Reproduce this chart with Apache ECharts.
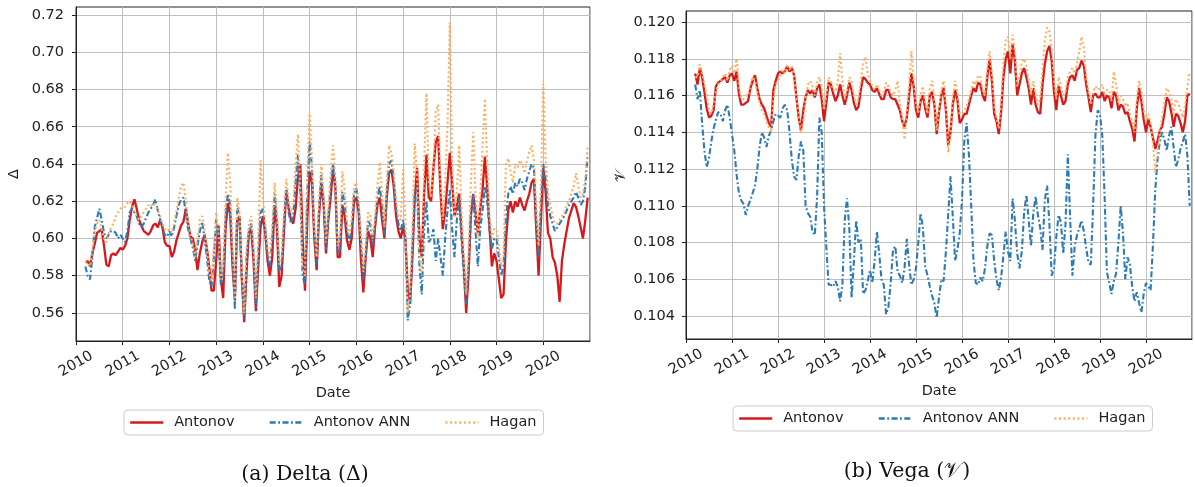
<!DOCTYPE html>
<html>
<head>
<meta charset="utf-8">
<script src="https://cdn.jsdelivr.net/npm/echarts@6/dist/echarts.min.js"></script>
<style>html,body{margin:0;padding:0;background:#fff;}#c{width:1195px;height:487px;}</style>
</head>
<body>
<div id="c"></div>
<script>
// sampling grid (decimal years)
const sampleStart = 2010.20;
const sampleStep = 0.05;
const sampleCount = 216;

const seriesNames = ['Antonov', 'Antonov ANN', 'Hagan'];
const yearTicks = [2010, 2011, 2012, 2013, 2014, 2015, 2016, 2017, 2018, 2019, 2020];
const deltaTicks = [0.56, 0.58, 0.60, 0.62, 0.64, 0.66, 0.68, 0.70, 0.72];
const vegaTicks = [0.104, 0.106, 0.108, 0.110, 0.112, 0.114, 0.116, 0.118, 0.120];

// ---- Delta panel ----
const deltaAntonov = [
0.587,0.588,0.585,0.592,0.597,0.603,0.604,0.605,0.596,0.586,0.585,0.591,0.592,0.591,0.593,0.595,
0.594,0.596,0.600,0.610,0.617,0.621,0.616,0.610,0.607,0.604,0.603,0.602,0.604,0.607,0.608,0.606,0.610,0.606,0.598,0.596,
0.596,0.590,0.593,0.599,0.603,0.607,0.609,0.616,0.608,0.601,0.600,0.594,0.583,0.592,0.598,0.602,0.595,0.585,0.572,0.572,
0.588,0.607,0.578,0.568,0.605,0.619,0.613,0.585,0.567,0.610,0.612,0.578,0.555,0.582,0.603,0.605,0.588,0.561,0.585,0.606,
0.612,0.603,0.588,0.580,0.590,0.618,0.606,0.574,0.580,0.603,0.626,0.617,0.610,0.608,0.616,0.633,0.640,0.600,0.572,0.610,
0.636,0.630,0.600,0.583,0.612,0.630,0.618,0.592,0.610,0.622,0.637,0.628,0.590,0.590,0.618,0.612,0.599,0.594,0.600,0.620,
0.622,0.614,0.588,0.571,0.590,0.604,0.600,0.590,0.606,0.618,0.622,0.610,0.600,0.622,0.635,0.637,0.628,0.612,0.604,0.600,
0.606,0.600,0.572,0.565,0.590,0.622,0.638,0.600,0.590,0.624,0.645,0.622,0.620,0.638,0.652,0.655,0.625,0.605,0.615,0.630,
0.646,0.630,0.612,0.618,0.624,0.604,0.585,0.560,0.580,0.612,0.624,0.614,0.603,0.616,0.626,0.644,0.628,0.606,0.585,0.592,
0.588,0.578,0.568,0.570,0.598,0.615,0.620,0.614,0.620,0.617,0.622,0.618,0.615,0.620,0.624,0.630,0.632,0.605,0.580,0.610,
0.638,0.625,0.603,0.600,0.590,0.587,0.580,0.566,0.588,0.597,0.604,0.611,0.615,0.619,0.617,0.612,0.606,0.600,0.610,0.622
];
const deltaAntonovANN = [
0.585,0.580,0.578,0.590,0.606,0.611,0.616,0.610,0.603,0.600,0.602,0.604,0.604,0.603,0.600,0.602,
0.600,0.598,0.604,0.614,0.616,0.614,0.612,0.608,0.606,0.608,0.611,0.614,0.616,0.618,0.621,0.615,0.610,0.606,0.602,0.601,
0.604,0.601,0.606,0.612,0.618,0.621,0.622,0.614,0.605,0.600,0.595,0.588,0.596,0.604,0.609,0.600,0.590,0.578,0.574,0.590,
0.610,0.600,0.575,0.580,0.612,0.624,0.618,0.590,0.562,0.618,0.610,0.578,0.557,0.590,0.604,0.608,0.592,0.563,0.592,0.614,
0.616,0.605,0.590,0.585,0.600,0.624,0.610,0.582,0.585,0.608,0.626,0.614,0.608,0.612,0.630,0.645,0.625,0.580,0.575,0.625,
0.652,0.638,0.604,0.586,0.615,0.634,0.620,0.594,0.612,0.628,0.640,0.630,0.592,0.594,0.625,0.620,0.604,0.598,0.605,0.624,
0.627,0.617,0.598,0.578,0.590,0.610,0.607,0.596,0.608,0.622,0.628,0.618,0.602,0.625,0.640,0.642,0.632,0.616,0.608,0.604,
0.610,0.600,0.556,0.565,0.595,0.625,0.628,0.585,0.570,0.605,0.620,0.598,0.600,0.605,0.588,0.600,0.590,0.580,0.600,0.615,
0.626,0.605,0.590,0.610,0.622,0.600,0.580,0.565,0.585,0.612,0.624,0.604,0.585,0.605,0.615,0.628,0.620,0.604,0.594,0.600,
0.600,0.590,0.580,0.585,0.610,0.624,0.628,0.624,0.630,0.628,0.632,0.630,0.626,0.632,0.636,0.640,0.638,0.610,0.590,0.620,
0.640,0.632,0.618,0.612,0.608,0.604,0.606,0.608,0.610,0.612,0.615,0.618,0.620,0.622,0.625,0.622,0.618,0.620,0.628,0.645
];
const deltaHagan = [
0.588,0.586,0.585,0.594,0.604,0.608,0.610,0.605,0.600,0.598,0.603,0.606,0.608,0.612,0.614,0.616,
0.617,0.617,0.619,0.620,0.618,0.614,0.612,0.610,0.612,0.614,0.616,0.618,0.617,0.619,0.618,0.615,0.612,0.608,0.605,0.604,
0.605,0.603,0.608,0.615,0.622,0.628,0.630,0.620,0.608,0.602,0.597,0.590,0.600,0.610,0.612,0.605,0.595,0.582,0.577,0.595,
0.614,0.603,0.578,0.585,0.620,0.646,0.630,0.595,0.566,0.622,0.614,0.582,0.560,0.594,0.608,0.612,0.596,0.568,0.600,0.642,
0.622,0.608,0.594,0.590,0.606,0.630,0.614,0.586,0.590,0.614,0.632,0.620,0.614,0.618,0.640,0.656,0.628,0.584,0.580,0.636,
0.667,0.642,0.606,0.590,0.620,0.640,0.624,0.598,0.616,0.635,0.650,0.632,0.596,0.600,0.636,0.626,0.608,0.602,0.610,0.628,
0.630,0.620,0.600,0.582,0.596,0.614,0.612,0.600,0.612,0.628,0.641,0.624,0.606,0.630,0.650,0.646,0.636,0.620,0.612,0.610,
0.637,0.610,0.560,0.570,0.605,0.651,0.634,0.590,0.580,0.640,0.678,0.630,0.622,0.640,0.668,0.672,0.630,0.610,0.630,0.660,
0.716,0.640,0.612,0.625,0.650,0.615,0.590,0.570,0.592,0.630,0.657,0.624,0.600,0.622,0.650,0.675,0.640,0.612,0.600,0.605,
0.605,0.596,0.585,0.590,0.640,0.643,0.636,0.630,0.640,0.638,0.642,0.640,0.635,0.642,0.646,0.650,0.642,0.616,0.596,0.630,
0.683,0.643,0.625,0.618,0.612,0.608,0.608,0.610,0.612,0.614,0.618,0.620,0.624,0.628,0.635,0.628,0.622,0.624,0.632,0.650
];

// ---- Vega panel ----
const vegaAntonov = [
0.1172,0.1166,0.1175,0.1170,0.1162,0.1153,0.1148,0.1149,0.1152,0.1165,0.1167,0.1168,0.1169,0.1170,0.1167,0.1171,
0.1172,0.1168,0.1173,0.1161,0.1155,0.1155,0.1156,0.1157,0.1164,0.1168,0.1171,0.1164,0.1158,0.1155,0.1153,0.1149,0.1145,0.1143,0.1163,0.1168,
0.1172,0.1173,0.1172,0.1173,0.1176,0.1173,0.1175,0.1171,0.1159,0.1148,0.1141,0.1152,0.1159,0.1163,0.1161,0.1163,0.1159,0.1164,0.1166,0.1158,
0.1146,0.1156,0.1167,0.1166,0.1161,0.1157,0.1160,0.1166,0.1160,0.1155,0.1160,0.1167,0.1163,0.1156,0.1152,0.1154,0.1163,0.1170,0.1169,0.1167,
0.1166,0.1163,0.1162,0.1164,0.1161,0.1158,0.1158,0.1163,0.1163,0.1159,0.1158,0.1158,0.1155,0.1152,0.1146,0.1143,0.1148,0.1160,0.1172,0.1165,
0.1152,0.1148,0.1157,0.1160,0.1153,0.1148,0.1160,0.1162,0.1155,0.1139,0.1151,0.1160,0.1164,0.1152,0.1133,0.1140,0.1155,0.1163,0.1158,0.1145,
0.1147,0.1150,0.1150,0.1155,0.1160,0.1164,0.1162,0.1167,0.1166,0.1160,0.1157,0.1170,0.1180,0.1168,0.1150,0.1146,0.1139,0.1151,0.1170,0.1180,
0.1184,0.1172,0.1188,0.1179,0.1160,0.1166,0.1172,0.1175,0.1170,0.1164,0.1155,0.1164,0.1155,0.1151,0.1150,0.1166,0.1177,0.1184,0.1187,0.1179,
0.1162,0.1152,0.1165,0.1160,0.1155,0.1157,0.1166,0.1170,0.1171,0.1168,0.1174,0.1175,0.1179,0.1176,0.1166,0.1159,0.1151,0.1160,0.1161,0.1159,
0.1159,0.1162,0.1157,0.1160,0.1159,0.1153,0.1162,0.1160,0.1152,0.1155,0.1154,0.1150,0.1151,0.1146,0.1142,0.1135,0.1153,0.1164,0.1157,0.1147,
0.1140,0.1147,0.1143,0.1137,0.1131,0.1135,0.1141,0.1143,0.1150,0.1159,0.1157,0.1151,0.1143,0.1150,0.1149,0.1145,0.1140,0.1146,0.1160,0.1161
];
const vegaAntonovANN = [
0.1166,0.1158,0.1163,0.1145,0.1130,0.1121,0.1126,0.1135,0.1142,0.1147,0.1151,0.1150,0.1146,0.1152,0.1155,0.1148,
0.1139,0.1130,0.1117,0.1107,0.1103,0.1101,0.1095,0.1100,0.1103,0.1107,0.1111,0.1120,0.1132,0.1140,0.1137,0.1132,0.1138,0.1141,0.1146,0.1150,
0.1149,0.1148,0.1153,0.1155,0.1152,0.1140,0.1125,0.1116,0.1114,0.1127,0.1135,0.1130,0.1100,0.1096,0.1094,0.1086,0.1084,0.1105,0.1148,0.1140,
0.1100,0.1078,0.1057,0.1057,0.1056,0.1059,0.1056,0.1048,0.1057,0.1092,0.1104,0.1088,0.1050,0.1070,0.1092,0.1080,0.1082,0.1052,0.1054,0.1059,
0.1065,0.1058,0.1070,0.1086,0.1074,0.1060,0.1057,0.1041,0.1045,0.1058,0.1076,0.1078,0.1064,0.1062,0.1058,0.1066,0.1082,0.1068,0.1057,0.1060,
0.1066,0.1080,0.1096,0.1088,0.1067,0.1062,0.1056,0.1051,0.1047,0.1039,0.1050,0.1060,0.1059,0.1075,0.1095,0.1116,0.1094,0.1070,0.1076,0.1085,
0.1103,0.1135,0.1145,0.1128,0.1100,0.1070,0.1058,0.1057,0.1061,0.1059,0.1066,0.1078,0.1085,0.1084,0.1070,0.1060,0.1054,0.1061,0.1073,0.1086,
0.1075,0.1070,0.1104,0.1092,0.1074,0.1066,0.1075,0.1096,0.1106,0.1092,0.1078,0.1096,0.1105,0.1095,0.1088,0.1076,0.1103,0.1111,0.1090,0.1062,
0.1066,0.1083,0.1095,0.1091,0.1074,0.1090,0.1128,0.1094,0.1062,0.1078,0.1084,0.1088,0.1092,0.1086,0.1077,0.1069,0.1068,0.1100,0.1138,0.1152,
0.1150,0.1138,0.1105,0.1064,0.1058,0.1052,0.1059,0.1063,0.1080,0.1100,0.1085,0.1060,0.1072,0.1068,0.1056,0.1048,0.1053,0.1047,0.1042,0.1052,
0.1058,0.1056,0.1054,0.1078,0.1108,0.1125,0.1135,0.1140,0.1136,0.1130,0.1138,0.1143,0.1132,0.1121,0.1125,0.1131,0.1135,0.1139,0.1127,0.1100
];
const vegaHagan = [
0.1170,0.1170,0.1177,0.1172,0.1166,0.1160,0.1152,0.1150,0.1155,0.1162,0.1166,0.1168,0.1170,0.1172,0.1168,0.1174,
0.1176,0.1172,0.1180,0.1165,0.1158,0.1158,0.1160,0.1160,0.1166,0.1170,0.1168,0.1162,0.1156,0.1152,0.1150,0.1146,0.1143,0.1140,0.1158,0.1166,
0.1168,0.1171,0.1174,0.1172,0.1176,0.1174,0.1176,0.1170,0.1158,0.1150,0.1140,0.1146,0.1158,0.1166,0.1168,0.1165,0.1160,0.1167,0.1170,0.1165,
0.1152,0.1160,0.1170,0.1168,0.1163,0.1162,0.1168,0.1183,0.1168,0.1158,0.1162,0.1170,0.1168,0.1160,0.1155,0.1158,0.1168,0.1178,0.1181,0.1172,
0.1168,0.1165,0.1163,0.1166,0.1163,0.1160,0.1162,0.1167,0.1165,0.1162,0.1160,0.1163,0.1168,0.1155,0.1148,0.1136,0.1150,0.1165,0.1184,0.1168,
0.1156,0.1150,0.1160,0.1165,0.1156,0.1150,0.1164,0.1168,0.1158,0.1141,0.1152,0.1163,0.1168,0.1155,0.1129,0.1138,0.1158,0.1168,0.1162,0.1150,
0.1150,0.1152,0.1154,0.1158,0.1163,0.1168,0.1166,0.1171,0.1170,0.1163,0.1160,0.1174,0.1184,0.1172,0.1154,0.1148,0.1142,0.1155,0.1178,0.1190,
0.1192,0.1180,0.1193,0.1184,0.1165,0.1170,0.1178,0.1180,0.1176,0.1168,0.1160,0.1168,0.1160,0.1155,0.1158,0.1175,0.1190,0.1197,0.1195,0.1185,
0.1168,0.1158,0.1170,0.1165,0.1160,0.1162,0.1170,0.1173,0.1175,0.1172,0.1178,0.1184,0.1192,0.1186,0.1170,0.1162,0.1155,0.1162,0.1165,0.1163,
0.1164,0.1166,0.1160,0.1163,0.1163,0.1157,0.1173,0.1166,0.1156,0.1160,0.1158,0.1154,0.1156,0.1150,0.1146,0.1140,0.1158,0.1168,0.1162,0.1152,
0.1146,0.1150,0.1145,0.1135,0.1118,0.1128,0.1140,0.1148,0.1156,0.1164,0.1162,0.1158,0.1150,0.1158,0.1156,0.1152,0.1148,0.1155,0.1165,0.1173
];

const dates = [];
for (let i = 0; i < sampleCount; i++) dates.push(+(sampleStart + i * sampleStep).toFixed(2));
const pair = arr => arr.map((v, i) => [dates[i], v]);

const COLORS = { red: '#d7191c', blue: '#2c7bb6', orange: '#fdae61' };
const FONT = 'DejaVu Sans';
const INK = '#222';
const GRIDC = '#bfbfbf';

function lineSeries(name, data, xi, color, type, width, z) {
  return {
    name, type: 'line', xAxisIndex: xi, yAxisIndex: xi, data: pair(data),
    showSymbol: false, symbol: 'none', z,
    lineStyle: { color, width, type },
    itemStyle: { color },
    emphasis: { disabled: true }, animation: false
  };
}

function xAxis(gi) {
  return {
    gridIndex: gi, type: 'value', min: 2010, max: 2021, interval: 1,
    axisLine: { show: true, lineStyle: { color: INK, width: 1 } },
    axisTick: { show: true, length: 4, lineStyle: { color: INK } },
    axisLabel: {
      rotate: 30, align: 'center', verticalAlign: 'middle', margin: 23,
      showMaxLabel: false, color: INK, fontFamily: FONT, fontSize: 14.5,
      formatter: v => String(Math.round(v))
    },
    splitLine: { show: true, lineStyle: { color: GRIDC, width: 1 } },
    name: 'Date', nameLocation: 'middle', nameGap: 42,
    nameTextStyle: { color: INK, fontFamily: FONT, fontSize: 14.5 }
  };
}
function yAxis(gi, min, max, ticks, dec, name, gap, margin) {
  return {
    gridIndex: gi, type: 'value', min, max,
    axisLine: { show: true, lineStyle: { color: INK, width: 1 } },
    axisTick: { show: true, length: 4, customValues: ticks, lineStyle: { color: INK } },
    axisLabel: { customValues: ticks, margin, color: INK, fontFamily: FONT, fontSize: 14.5,
      formatter: v => v.toFixed(dec) },
    splitLine: { show: true, lineStyle: { color: GRIDC, width: 1 } },
    name, nameLocation: 'middle', nameRotate: 90, nameGap: gap,
    nameTextStyle: { color: INK, fontFamily: FONT, fontSize: 14.5 }
  };
}
function legend(left, top) {
  return {
    left, top, orient: 'horizontal', data: seriesNames,
    itemWidth: 33, itemHeight: 14, itemGap: 34,
    padding: [5, 7, 5, 5], borderColor: '#cccccc', borderWidth: 1, borderRadius: 4,
    backgroundColor: '#fff', selectedMode: false,
    itemStyle: { opacity: 0 },
    lineStyle: { width: 2.4 },
    textStyle: { color: INK, fontFamily: FONT, fontSize: 14.5, padding: [0, 0, 0, 6] }
  };
}

const chart = echarts.init(document.getElementById('c'), null, { renderer: 'canvas' });
chart.setOption({
  animation: false,
  backgroundColor: '#fff',
  grid: [
    { left: 76, top: 7, width: 514, height: 334, show: true, borderColor: INK, borderWidth: 1, backgroundColor: 'transparent' },
    { left: 686, top: 11, width: 506, height: 328, show: true, borderColor: INK, borderWidth: 1, backgroundColor: 'transparent' }
  ],
  xAxis: [xAxis(0), xAxis(1)],
  yAxis: [
    yAxis(0, 0.54495, 0.7243, deltaTicks, 2, 'Δ', 54, 12),
    yAxis(1, 0.10275, 0.1206, vegaTicks, 3, '𝒱', 57, 11)
  ],
  legend: [legend(124, 410), legend(733, 406)],
  title: [
    { text: '(a) Delta (Δ)', left: 300, top: 459, textAlign: 'center',
      textStyle: { fontFamily: 'DejaVu Serif', fontWeight: 'normal', fontSize: 20.5, color: '#111' } },
    { text: '(b) Vega (𝒱)', left: 902, top: 456, textAlign: 'center',
      textStyle: { fontFamily: 'DejaVu Serif', fontWeight: 'normal', fontSize: 20.5, color: '#111' } }
  ],
  series: [
    lineSeries('Antonov', deltaAntonov, 0, COLORS.red, 'solid', 2.3, 2),
    lineSeries('Antonov ANN', deltaAntonovANN, 0, COLORS.blue, [6, 2.5, 1.8, 2.5], 2.1, 3),
    lineSeries('Hagan', deltaHagan, 0, COLORS.orange, [2, 2.6], 2.1, 4),
    lineSeries('Antonov', vegaAntonov, 1, COLORS.red, 'solid', 2.3, 2),
    lineSeries('Antonov ANN', vegaAntonovANN, 1, COLORS.blue, [6, 2.5, 1.8, 2.5], 2.1, 3),
    lineSeries('Hagan', vegaHagan, 1, COLORS.orange, [2, 2.6], 2.1, 4)
  ]
});
</script>
</body>
</html>
